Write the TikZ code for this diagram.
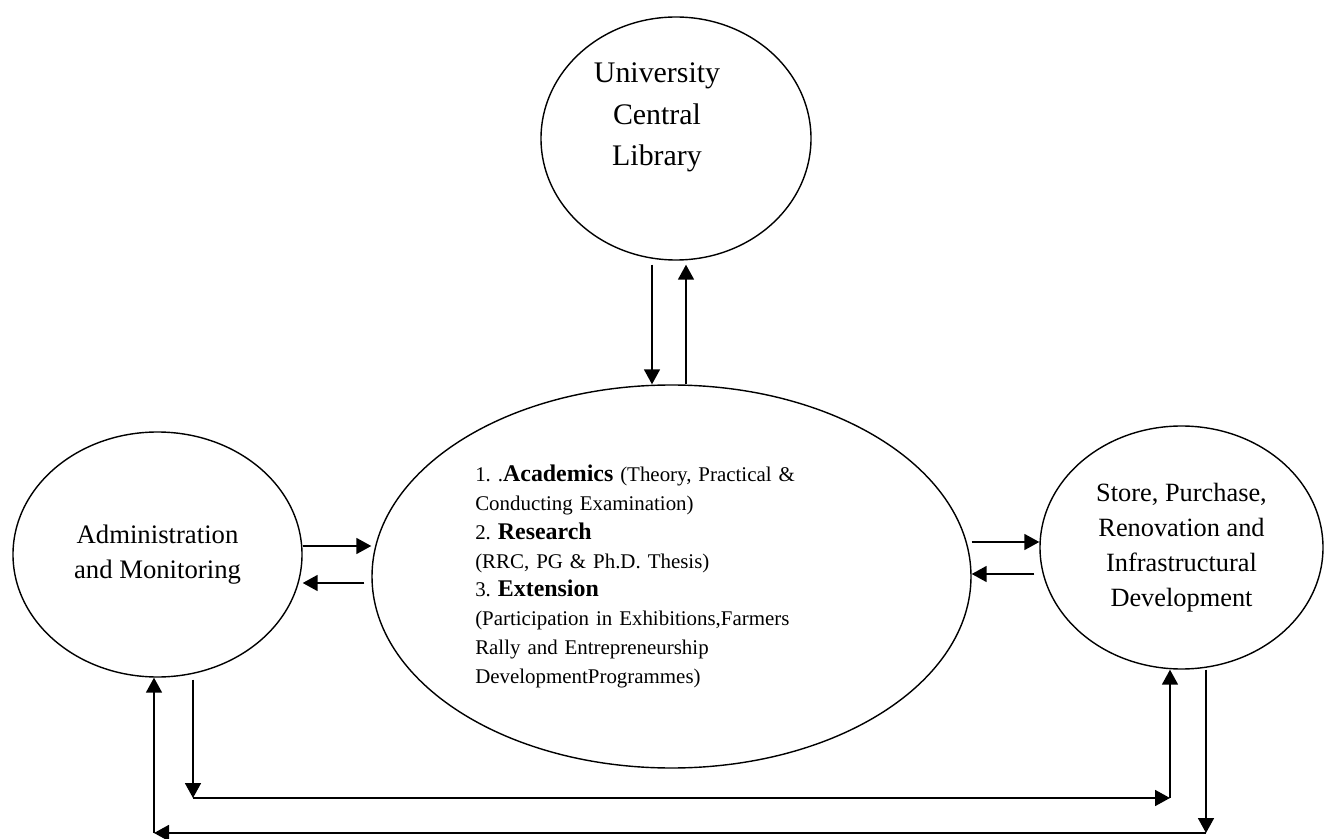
\documentclass[tikz,border=0pt]{standalone}
\usepackage{fontspec}
\setmainfont{Liberation Serif}
\usepackage{tikz}
\usetikzlibrary{shapes.geometric, arrows.meta}
\newcommand{\headbf}[1]{{\fontsize{13.6}{16.4}\selectfont\bfseries #1}}
\frenchspacing

\begin{document}
\begin{tikzpicture}[
  bubble/.style={ellipse, draw=black, line width=0.8pt, inner sep=0pt, align=center},
  arr/.style={line width=1pt, -{Triangle[length=0.3cm, width=0.32cm]}}
]
\useasboundingbox (0,0) rectangle (26.52,16.76);

\node [bubble, minimum width=5.4cm, minimum height=4.86cm] (lib) at (13.52,13.99) {};
\node [align=center, font=\fontsize{17}{23.8}\selectfont] (libtext) at ([xshift=-0.38cm, yshift=0.42cm]lib.center) {University\\Central\\Library};

\node [bubble, minimum width=11.98cm, minimum height=7.66cm, text width=7.85cm, align=left, font=\fontsize{11.9}{16.4}\selectfont] (cen) at (13.43,5.23) {
1. .\headbf{Academics} (Theory, Practical \&\\
Conducting Examination)\\
2. \headbf{Research}\\
(RRC, PG \& Ph.D. Thesis)\\
3. \headbf{Extension}\\
(Participation in Exhibitions,Farmers\\
Rally and Entrepreneurship\\
DevelopmentProgrammes)};

\node [bubble, minimum width=5.78cm, minimum height=4.9cm, font=\fontsize{15.2}{19.8}\selectfont] (adm) at (3.15,5.67) {Administration\\and Monitoring};

\node [bubble, minimum width=5.66cm, minimum height=4.86cm, font=\fontsize{15}{19.8}\selectfont] (sto) at (23.63,5.81) {Store, Purchase,\\Renovation and\\Infrastructural\\Development};

% library <-> academics
\coordinate (ld) at ([xshift=-0.48cm, yshift=-0.08cm]lib.south);
\coordinate (lu) at ([xshift=0.2cm, yshift=-0.08cm]lib.south);
\draw [arr] (ld) -- (ld |- cen.north);
\draw [arr] (lu |- cen.north) -- (lu);

% administration <-> academics
\coordinate (r1) at (0,5.84);
\coordinate (r2) at (0,5.10);
\draw [arr] (adm.east |- r1) -- (cen.west |- r1);
\draw [arr] ([xshift=-0.14cm]cen.west |- r2) -- (adm.east |- r2);

% academics <-> store
\coordinate (r3) at (0,5.92);
\coordinate (r4) at (0,5.28);
\draw [arr] (cen.east |- r3) -- (sto.west |- r3);
\draw [arr] ([xshift=-0.1cm]sto.west |- r4) -- (cen.east |- r4);

% bottom loops
\coordinate (dl) at (3.86,0.80);
\coordinate (dr) at (23.40,0.80);
\coordinate (el) at (3.08,0.10);
\coordinate (er) at (24.12,0.10);
\draw [arr] ([yshift=-0.04cm]dl |- adm.south) -- (dl);
\draw [arr] (dl) -- (dr);
\draw [arr] (dr) -- (dr |- sto.south);
\draw [arr] (er |- sto.south) -- (er);
\draw [arr] (er) -- (el);
\draw [arr] (el) -- (el |- adm.south);

\end{tikzpicture}
\end{document}
